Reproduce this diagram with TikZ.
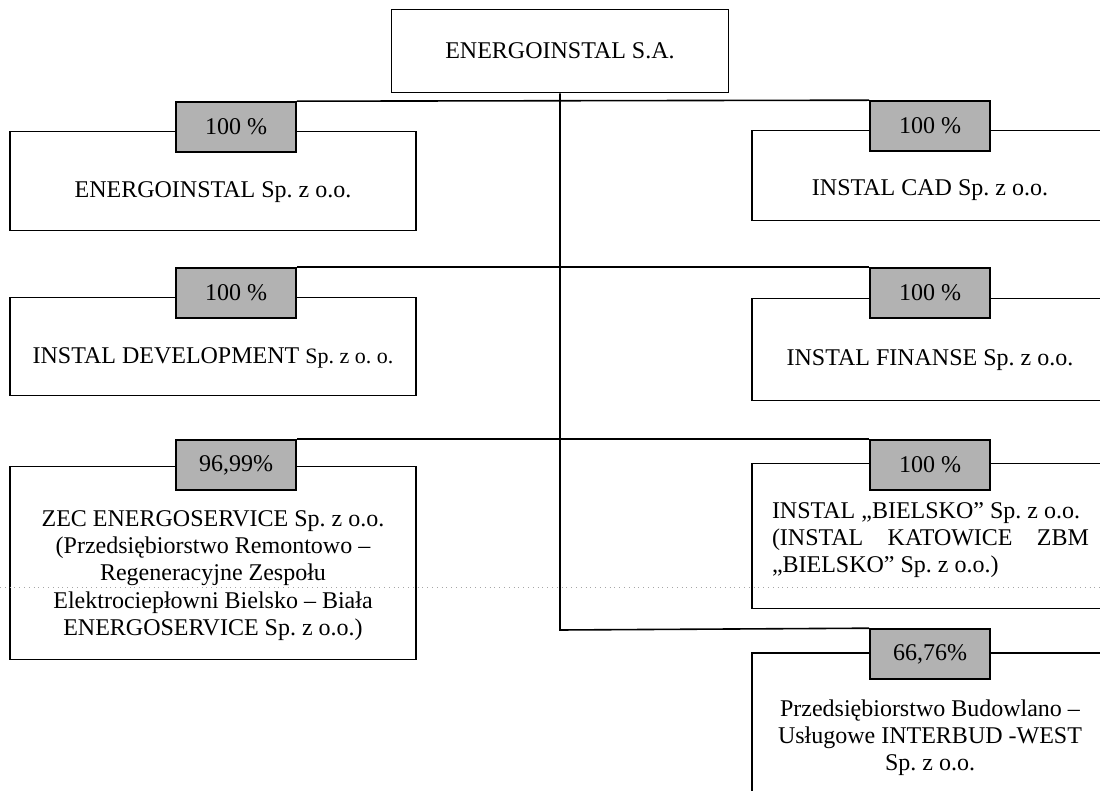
\documentclass[tikz,border=0pt]{standalone}
\usepackage{fontspec}
\setmainfont{Liberation Serif}
\usetikzlibrary{positioning,calc}
\frenchspacing

\begin{document}
\begin{tikzpicture}[
  x=0.5pt,y=-0.5pt,
  unit/.style={draw,line width=0.8pt,inner sep=0pt,font=\fontsize{12}{13.6}\selectfont},
  share/.style={draw,line width=0.8pt,fill=black!30,minimum width=60pt,minimum height=25pt,inner sep=0pt,font=\fontsize{12}{13.6}\selectfont},
  firm/.style={align=center,inner sep=0pt,font=\fontsize{12}{13.6}\selectfont},
  link/.style={line width=0.8pt}
]
\useasboundingbox (0,0) rectangle (1100,791);
\clip (0,0) rectangle (1100,791);

% parent company
\node[unit,minimum width=168.5pt,minimum height=41.5pt] (top) at (560,51) {ENERGOINSTAL S.A.};

% left column
\node[unit,minimum width=203pt,minimum height=49.5pt] (e1) at (213,181) {};
\node[unit,minimum width=203pt,minimum height=49pt] (e2) at (213,346.5) {};
\node[unit,minimum width=203pt,minimum height=96.5pt] (e3) at (213,563) {};

% right column
\node[unit,minimum width=178pt,minimum height=45pt] (e4) at (930,175.5) {};
\node[unit,minimum width=178pt,minimum height=51pt] (e5) at (930,349.5) {};
\node[unit,minimum width=178pt,minimum height=72.5pt] (e6) at (930,536) {};
\node[unit,minimum width=178pt,minimum height=88.5pt] (e7) at (930,741.5) {};

% shares
\node[share] (s1) at (236,127) {100 \%};
\node[share] (s2) at (236,293) {100 \%};
\node[share] (s3) at (236,465) {96,99\%};
\node[share] (s4) at (930,126) {100 \%};
\node[share] (s5) at (930,293) {100 \%};
\node[share] (s6) at (930,465) {100 \%};
\node[share] (s7) at (930,654) {66,76\%};

% names
\node[firm] (n1) at ($(s1.south -| e1.south)!.5!(e1.south)$) {ENERGOINSTAL Sp. z o.o.};
\node[firm] (n2) at ($(s2.south -| e2.south)!.5!(e2.south)$) {INSTAL DEVELOPMENT {\fontsize{11}{13}\selectfont Sp. z o. o.}};
\node[firm] (n3) at ($(s3.south -| e3.south)!.5!(e3.south)$) {ZEC ENERGOSERVICE Sp. z o.o.\\(Przedsiębiorstwo Remontowo –\\Regeneracyjne Zespołu\\Elektrociepłowni Bielsko – Biała\\ENERGOSERVICE Sp. z o.o.)};
\node[firm] (n4) at (930,190) {INSTAL CAD Sp. z o.o.};
\node[firm] (n5) at ($(s5.south -| e5.south)!.5!(e5.south)$) {INSTAL FINANSE Sp. z o.o.};
\node[firm,align=left] (n6) at (930.5,540) {INSTAL „BIELSKO” Sp. z o.o.\\\makebox[158.5pt][s]{(INSTAL KATOWICE ZBM}\\„BIELSKO” Sp. z o.o.)};
\node[firm] (n7) at (930,738) {Przedsiębiorstwo Budowlano –\\Usługowe INTERBUD -WEST\\Sp. z o.o.};

% ownership lines
\coordinate (end) at (560,630);
\draw[link] (top.south) -- (end) -- (s7.north west);
\draw[link] (s1.north east) -- (s4.north west);
\draw[link] (s2.north east) -- (s5.north west);
\draw[link] (s3.north east) -- (s6.north west);

% scan fold
\draw[black!35,dotted,line width=0.4pt] (0,587) -- (1100,587);
\end{tikzpicture}
\end{document}
